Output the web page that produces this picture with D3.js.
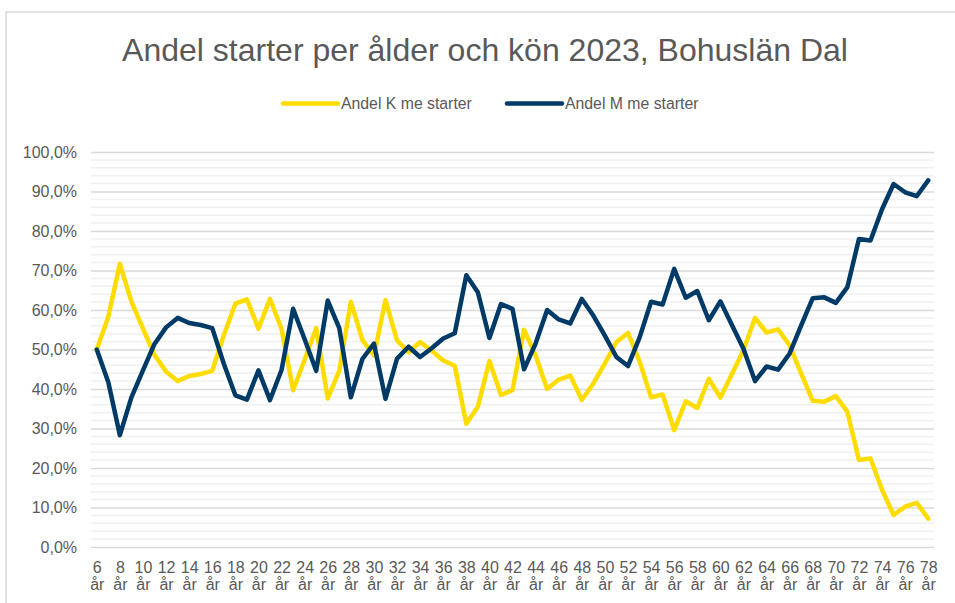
<!DOCTYPE html>
<html>
<head>
<meta charset="utf-8">
<script src="https://cdn.jsdelivr.net/npm/d3@7"></script>
<style>
  html, body { margin: 0; padding: 0; background: #ffffff; }
  svg { display: block; font-family: "Liberation Sans", Arial, sans-serif; }
</style>
</head>
<body>
<svg id="chart" width="955" height="603"></svg>
<script>
// ---- Data ----
const title = "Andel starter per ålder och kön 2023, Bohuslän Dal";
const seriesNames = ["Andel K me starter", "Andel M me starter"];
const ages = [6, 7, 8, 9, 10, 11, 12, 13, 14, 15, 16, 17, 18, 19, 20, 21, 22, 23, 24, 25,
  26, 27, 28, 29, 30, 31, 32, 33, 34, 35, 36, 37, 38, 39, 40, 41, 42, 43, 44, 45,
  46, 47, 48, 49, 50, 51, 52, 53, 54, 55, 56, 57, 58, 59, 60, 61, 62, 63, 64, 65,
  66, 67, 68, 69, 70, 71, 72, 73, 74, 75, 76, 77, 78];
const shareK = [50.0, 58.3, 71.7, 62.1, 55.3, 48.6, 44.4, 42.0, 43.3, 43.8, 44.6, 53.6, 61.6, 62.7, 55.3,
  62.8, 55.2, 39.7, 47.4, 55.4, 37.6, 44.6, 62.1, 52.4, 48.5, 62.5, 52.3, 49.3, 51.9, 49.7,
  47.2, 45.9, 31.2, 35.5, 47.1, 38.5, 39.7, 55.0, 48.5, 40.0, 42.4, 43.4, 37.2, 41.4, 46.5,
  51.9, 54.2, 47.0, 37.9, 38.6, 29.6, 36.9, 35.2, 42.6, 37.8, 43.8, 49.8, 58.0, 54.3, 55.1,
  51.0, 43.9, 37.0, 36.8, 38.2, 34.2, 22.0, 22.4, 14.5, 8.1, 10.2, 11.2, 7.2];
const shareM = [50.0, 41.7, 28.3, 37.9, 44.7, 51.4, 55.6, 58.0, 56.7, 56.2, 55.4, 46.4, 38.4, 37.3, 44.7,
  37.2, 44.8, 60.3, 52.6, 44.6, 62.4, 55.4, 37.9, 47.6, 51.5, 37.5, 47.7, 50.7, 48.1, 50.3,
  52.8, 54.1, 68.8, 64.5, 52.9, 61.5, 60.3, 45.0, 51.5, 60.0, 57.6, 56.6, 62.8, 58.6, 53.5,
  48.1, 45.8, 53.0, 62.1, 61.4, 70.4, 63.1, 64.8, 57.4, 62.2, 56.2, 50.2, 42.0, 45.7, 44.9,
  49.0, 56.1, 63.0, 63.2, 61.8, 65.8, 78.0, 77.6, 85.5, 91.9, 89.8, 88.8, 92.8];
const yTicks = [0, 10, 20, 30, 40, 50, 60, 70, 80, 90, 100];
const yMinorTicks = [2, 4, 6, 8, 12, 14, 16, 18, 22, 24, 26, 28, 32, 34, 36, 38, 42, 44, 46, 48,
  52, 54, 56, 58, 62, 64, 66, 68, 72, 74, 76, 78, 82, 84, 86, 88, 92, 94, 96, 98];
const xTickAges = [6, 8, 10, 12, 14, 16, 18, 20, 22, 24, 26, 28, 30, 32, 34, 36, 38, 40, 42, 44,
  46, 48, 50, 52, 54, 56, 58, 60, 62, 64, 66, 68, 70, 72, 74, 76, 78];
const colors = ["#FFDC00", "#003A66"];

// ---- Layout ----
const svg = d3.select("#chart");
const plot = { left: 91, right: 934, top: 152, bottom: 547 };
const textColor = "#595959";

// chart border (Excel chart area)
svg.append("rect")
  .attr("x", 6).attr("y", 12)
  .attr("width", 1000).attr("height", 700)
  .attr("fill", "#ffffff")
  .attr("stroke", "#d9d9d9").attr("stroke-width", 1.5);

const x = d3.scalePoint()
  .domain(ages)
  .range([plot.left, plot.right])
  .padding(0.5);

const y = d3.scaleLinear()
  .domain([0, 100])
  .range([plot.bottom, plot.top]);

const sv = d3.formatLocale({ decimal: ",", thousands: "\u00a0", grouping: [3], currency: ["", " kr"] });
const pct = v => sv.format(".1f")(v) + "%";

// minor gridlines
svg.append("g").selectAll("line").data(yMinorTicks).join("line")
  .attr("x1", plot.left).attr("x2", plot.right)
  .attr("y1", d => y(d)).attr("y2", d => y(d))
  .attr("stroke", "#f0f0f0").attr("stroke-width", 1.5);

// major gridlines + y axis
const yAxis = d3.axisLeft(y).tickValues(yTicks).tickFormat(pct)
  .tickSize(-(plot.right - plot.left)).tickPadding(14);
const gy = svg.append("g").attr("transform", `translate(${plot.left},0)`).call(yAxis);
gy.select(".domain").remove();
gy.selectAll(".tick line").attr("stroke", "#d9d9d9").attr("stroke-width", 1.5);
gy.selectAll(".tick text")
  .attr("fill", textColor)
  .style("font-size", "16px")
  .style("font-family", "'Liberation Sans', Arial, sans-serif");

// x axis labels (two lines)
const xAxis = d3.axisBottom(x).tickValues(xTickAges).tickSize(0).tickFormat("");
const gx = svg.append("g").attr("transform", `translate(0,${plot.bottom})`).call(xAxis);
gx.select(".domain").remove();
gx.selectAll(".tick").each(function(d) {
  const t = d3.select(this).append("text")
    .attr("fill", textColor)
    .attr("text-anchor", "middle")
    .style("font-size", "16px")
    .style("font-family", "'Liberation Sans', Arial, sans-serif");
  t.append("tspan").attr("x", 0).attr("y", 26).text(d);
  t.append("tspan").attr("x", 0).attr("y", 43).text("år");
});

// lines
const series = [shareK, shareM];
const line = d3.line()
  .x((d, i) => x(ages[i]))
  .y(d => y(d));
svg.append("g").selectAll("path").data(series).join("path")
  .attr("d", d => line(d))
  .attr("fill", "none")
  .attr("stroke", (d, i) => colors[i])
  .attr("stroke-width", 4.5)
  .attr("stroke-linejoin", "round")
  .attr("stroke-linecap", "round");

// title
svg.append("text")
  .attr("x", 485).attr("y", 61)
  .attr("text-anchor", "middle")
  .attr("fill", textColor)
  .style("font-size", "32px")
  .text(title);

// legend
const legendX = [283, 507];
const lg = svg.append("g").selectAll("g").data(seriesNames).join("g")
  .attr("transform", (d, i) => `translate(${legendX[i]},103.5)`);
lg.append("line")
  .attr("x1", 0).attr("x2", 55).attr("y1", 0).attr("y2", 0)
  .attr("stroke", (d, i) => colors[i])
  .attr("stroke-width", 4.5)
  .attr("stroke-linecap", "round");
lg.append("text")
  .attr("x", 58).attr("y", 5.5)
  .attr("fill", textColor)
  .style("font-size", "15.8px")
  .text(d => d);
</script>
</body>
</html>
